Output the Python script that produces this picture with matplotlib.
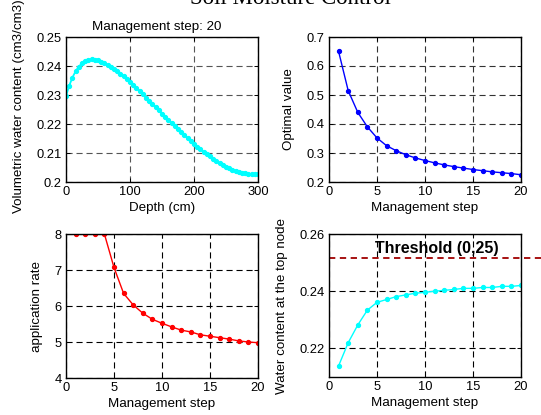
import matplotlib
matplotlib.use("Agg")
import matplotlib.pyplot as plt
import numpy as np

plt.rcParams['font.family'] = ['Liberation Sans', 'DejaVu Sans']
plt.rcParams['font.size'] = 9

# ---- data ----
depth = list(range(0, 301, 5))
theta = [0.2296, 0.2332, 0.2360, 0.2382, 0.2398, 0.2409, 0.2417, 0.2421, 0.2423, 0.2422,
         0.2419, 0.2415, 0.2410, 0.2404, 0.2397, 0.2390, 0.2382, 0.2373, 0.2364, 0.2355,
         0.2345, 0.2335, 0.2324, 0.2313, 0.2302, 0.2291, 0.2280, 0.2269, 0.2258, 0.2247,
         0.2236, 0.2225, 0.2214, 0.2203, 0.2192, 0.2182, 0.2171, 0.2161, 0.2151, 0.2141,
         0.2132, 0.2122, 0.2113, 0.2104, 0.2096, 0.2088, 0.2080, 0.2072, 0.2065, 0.2059,
         0.2053, 0.2048, 0.2043, 0.2039, 0.2035, 0.2032, 0.2030, 0.2028, 0.2027, 0.2026,
         0.2026]

steps = list(range(1, 21))
optimal = [0.65, 0.515, 0.44, 0.39, 0.352, 0.325, 0.308, 0.294, 0.283, 0.274,
           0.266, 0.259, 0.253, 0.248, 0.243, 0.239, 0.235, 0.232, 0.229, 0.225]
app_rate = [8.0, 8.0, 8.0, 8.0, 7.07, 6.35, 6.03, 5.80, 5.63, 5.52,
            5.42, 5.33, 5.28, 5.20, 5.16, 5.12, 5.08, 5.03, 5.00, 4.98]
top_wc = [0.2139, 0.2220, 0.2282, 0.2334, 0.2361, 0.2371, 0.2381, 0.2387, 0.2393, 0.2396,
          0.2400, 0.2403, 0.2406, 0.2410, 0.2410, 0.2413, 0.2413, 0.2417, 0.2417, 0.2420]
threshold = 0.2515
threshold_x = [0, 23]

W, H = 541, 415
LAB = 9.6
TICK = 9.3
fig = plt.figure(figsize=(W/100, H/100), dpi=100)

def box(l, t, r, b):
    return [l/W, 1 - b/H, (r - l)/W, (b - t)/H]

def style(ax, gridcolor):
    ax.tick_params(direction='in', top=True, right=True, length=3, width=0.7, pad=3,
                   labelsize=TICK, colors='black')
    for s in ax.spines.values():
        s.set_linewidth(1.0)
    ax.grid(True, color=gridcolor, linestyle=(0, (5.5, 3.5)), linewidth=0.8)
    ax.set_axisbelow(True)

ax1 = fig.add_axes(box(66, 37, 258, 182))
ax2 = fig.add_axes(box(329, 37, 521, 182))
ax3 = fig.add_axes(box(66, 234, 258, 378))
ax4 = fig.add_axes(box(329, 234, 521, 377))

# top-left
ax1.plot(depth, theta, color='cyan', marker='o', markersize=2.8, linewidth=1.3)
ax1.set_xlim(0, 300)
ax1.set_ylim(0.2, 0.25)
ax1.set_xticks([0, 100, 200, 300])
ax1.set_yticks([0.2, 0.21, 0.22, 0.23, 0.24, 0.25])
ax1.set_yticklabels(['0.2', '0.21', '0.22', '0.23', '0.24', '0.25'])
style(ax1, '#555555')
ax1.set_xlabel('Depth (cm)', fontsize=LAB, labelpad=2.5)
ax1.set_ylabel('Volumetric water content (cm3/cm3)', fontsize=LAB)
ax1.yaxis.set_label_coords(-0.215, 0.52)
ax1.set_title('Management step: 20', fontsize=LAB, pad=5, x=0.47)

# top-right
ax2.plot(steps, optimal, color='blue', marker='o', markersize=2.8, linewidth=1.0)
ax2.set_xlim(0, 20)
ax2.set_ylim(0.2, 0.7)
ax2.set_xticks([0, 5, 10, 15, 20])
ax2.set_yticks([0.2, 0.3, 0.4, 0.5, 0.6, 0.7])
style(ax2, '#333333')
ax2.set_xlabel('Management step', fontsize=LAB, labelpad=2.5)
ax2.set_ylabel('Optimal value', fontsize=LAB)
ax2.yaxis.set_label_coords(-0.175, 0.5)

# bottom-left
ax3.plot(steps, app_rate, color='red', marker='o', markersize=2.8, linewidth=1.0)
ax3.set_xlim(0, 20)
ax3.set_ylim(4, 8)
ax3.set_xticks([0, 5, 10, 15, 20])
ax3.set_yticks([4, 5, 6, 7, 8])
style(ax3, 'black')
ax3.set_xlabel('Management step', fontsize=LAB, labelpad=2.5)
ax3.set_ylabel('application rate', fontsize=LAB)
ax3.yaxis.set_label_coords(-0.12, 0.5)

# bottom-right
ax4.plot(steps, top_wc, color='cyan', marker='o', markersize=2.8, linewidth=1.0)
ax4.plot(threshold_x, [threshold, threshold], color='#a00000', linestyle=(0, (3.5, 2.5)),
         linewidth=1.3, clip_on=False)
ax4.set_xlim(0, 20)
ax4.set_ylim(0.21, 0.26)
ax4.set_xticks([0, 5, 10, 15, 20])
ax4.set_yticks([0.22, 0.24, 0.26])
style(ax4, 'black')
ax4.set_xlabel('Management step', fontsize=LAB, labelpad=2.5)
ax4.set_ylabel('Water content at the top node', fontsize=LAB)
ax4.yaxis.set_label_coords(-0.215, 0.5)
ax4.text(0.5625, 0.90, 'Threshold (0,25)', transform=ax4.transAxes, ha='center', va='center',
         fontsize=11.5, fontweight='bold')

fig.text(290/W, 1 - 4/H, 'Soil Moisture Control', ha='center', va='baseline',
         fontsize=16.5, family=['Liberation Serif', 'DejaVu Serif'])

fig.savefig('out.png', dpi=100)
